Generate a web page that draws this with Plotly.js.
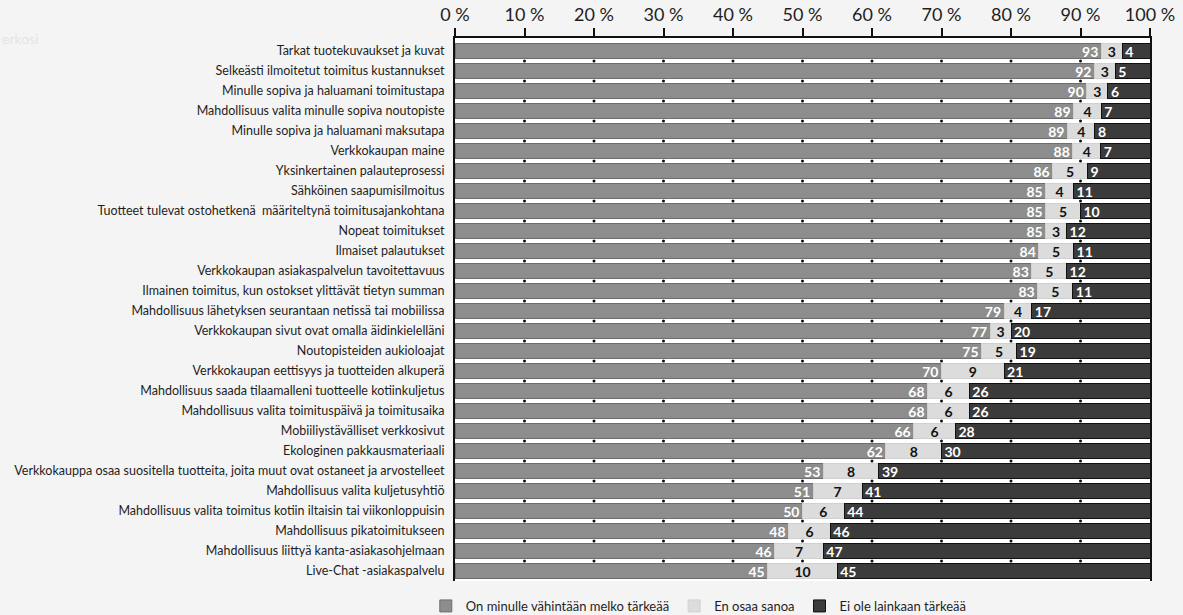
<!DOCTYPE html>
<html>
<head>
<meta charset="utf-8">
<script src="https://cdn.plot.ly/plotly-3.0.1.min.js"></script>
<style>
  html, body { margin: 0; padding: 0; background: #f4f4f4; }
  #chart { width: 1183px; height: 615px; }
</style>
</head>
<body>
<div id="chart"></div>
<script>
const categories = [
  "Tarkat tuotekuvaukset ja kuvat",
  "Selkeästi ilmoitetut toimitus kustannukset",
  "Minulle sopiva ja haluamani toimitustapa",
  "Mahdollisuus valita minulle sopiva noutopiste",
  "Minulle sopiva ja haluamani maksutapa",
  "Verkkokaupan maine",
  "Yksinkertainen palauteprosessi",
  "Sähköinen saapumisilmoitus",
  "Tuotteet tulevat ostohetkenä  määriteltynä toimitusajankohtana",
  "Nopeat toimitukset",
  "Ilmaiset palautukset",
  "Verkkokaupan asiakaspalvelun tavoitettavuus",
  "Ilmainen toimitus, kun ostokset ylittävät tietyn summan",
  "Mahdollisuus lähetyksen seurantaan netissä tai mobiilissa",
  "Verkkokaupan sivut ovat omalla äidinkielelläni",
  "Noutopisteiden aukioloajat",
  "Verkkokaupan eettisyys ja tuotteiden alkuperä",
  "Mahdollisuus saada tilaamalleni tuotteelle kotiinkuljetus",
  "Mahdollisuus valita toimituspäivä ja toimitusaika",
  "Mobiiliystävälliset verkkosivut",
  "Ekologinen pakkausmateriaali",
  "Verkkokauppa osaa suositella tuotteita, joita muut ovat ostaneet ja arvostelleet",
  "Mahdollisuus valita kuljetusyhtiö",
  "Mahdollisuus valita toimitus kotiin iltaisin tai viikonloppuisin",
  "Mahdollisuus pikatoimitukseen",
  "Mahdollisuus liittyä kanta-asiakasohjelmaan",
  "Live-Chat -asiakaspalvelu"
];
const important = [93,92,90,89,89,88,86,85,85,85,84,83,83,79,77,75,70,68,68,66,62,53,51,50,48,46,45];
const dontKnow  = [3,3,3,4,4,4,5,4,5,3,5,5,5,4,3,5,9,6,6,6,8,8,7,6,6,7,10];
const notImportant = [4,5,6,7,8,7,9,11,10,12,11,12,11,17,20,19,21,26,26,28,30,39,41,44,46,47,45];
const seriesNames = ["On minulle vähintään melko tärkeää", "En osaa sanoa", "Ei ole lainkaan tärkeää"];
const tickValues = [0,10,20,30,40,50,60,70,80,90,100];

const FONT = "Lato, 'Noto Sans', sans-serif";

function barTrace(values, name, fill, edge, txtColor, anchor) {
  return {
    type: 'bar', orientation: 'h',
    y: categories, x: values, name: name,
    text: values.map(String), texttemplate: '%{text}',
    textposition: 'inside', insidetextanchor: anchor, textangle: 0,
    constraintext: 'none', cliponaxis: false,
    textfont: { family: FONT, size: 14, color: txtColor, weight: 'bold' },
    marker: { color: fill, line: { color: edge, width: 1 } },
    hoverinfo: 'skip'
  };
}

// dotted grid marks in the gaps between rows (grid ticks x rows)
const innerTicks = tickValues.filter(v => v > 0 && v < 100);
const dotX = [], dotY = [];
for (let i = 0; i < categories.length - 1; i++) {
  innerTicks.forEach(v => { dotX.push(v); dotY.push(i + 0.5); });
}

const data = [
  barTrace(important, seriesNames[0], '#8d8d8d', '#6e6e6e', '#ffffff', 'end'),
  barTrace(dontKnow, seriesNames[1], '#dcdcdc', '#d0d0d0', '#111111', 'middle'),
  barTrace(notImportant, seriesNames[2], '#3b3b3b', '#111111', '#ffffff', 'start'),
  {
    type: 'scatter', mode: 'markers', x: dotX, y: dotY, yaxis: 'y2',
    marker: { color: '#111', size: 3, symbol: 'circle' },
    showlegend: false, hoverinfo: 'skip', cliponaxis: false
  }
];

const layout = {
  width: 1183, height: 615,
  margin: { l: 455, r: 33, t: 38, b: 34, pad: 0, autoexpand: false },
  paper_bgcolor: '#f4f4f4',
  plot_bgcolor: '#ffffff',
  barmode: 'stack', barnorm: 'percent', bargap: 0.25,
  font: { family: FONT, color: '#1e1e1e' },
  showlegend: true,
  legend: {
    orientation: 'h', x: -0.042, xanchor: 'left', y: -0.046, yanchor: 'middle',
    font: { family: FONT, size: 13, color: '#1e1e1e' },
    bgcolor: 'rgba(0,0,0,0)', traceorder: 'normal'
  },
  xaxis: {
    side: 'top', range: [0, 100.0001], tickvals: tickValues,
    ticktext: tickValues.map(v => v + ' %'),
    ticks: 'outside', ticklen: 8, tickwidth: 2, tickcolor: '#111',
    showline: true, linecolor: '#111', linewidth: 2,
    showgrid: false, zeroline: false, fixedrange: true,
    tickfont: { family: FONT, size: 18, color: '#1e1e1e' }
  },
  yaxis: {
    type: 'category', categoryorder: 'array', categoryarray: categories,
    range: [26.5, -0.65],
    showline: true, mirror: true, linecolor: '#111', linewidth: 2,
    ticks: '', showgrid: false, zeroline: false, fixedrange: true,
    ticklabelstandoff: 6,
    tickfont: { family: FONT, size: 12.5, color: '#1e1e1e' }
  },
  yaxis2: {
    overlaying: 'y', range: [26.5, -0.65], visible: false, fixedrange: true
  },
  annotations: [{
    text: 'erkosi', xref: 'paper', yref: 'paper', x: -455/695, y: 1.0,
    xanchor: 'left', yanchor: 'middle', showarrow: false,
    font: { family: FONT, size: 14, color: '#e4e4e4' }
  }]
};

Plotly.newPlot('chart', data, layout, { displayModeBar: false, staticPlot: true });
</script>
</body>
</html>
